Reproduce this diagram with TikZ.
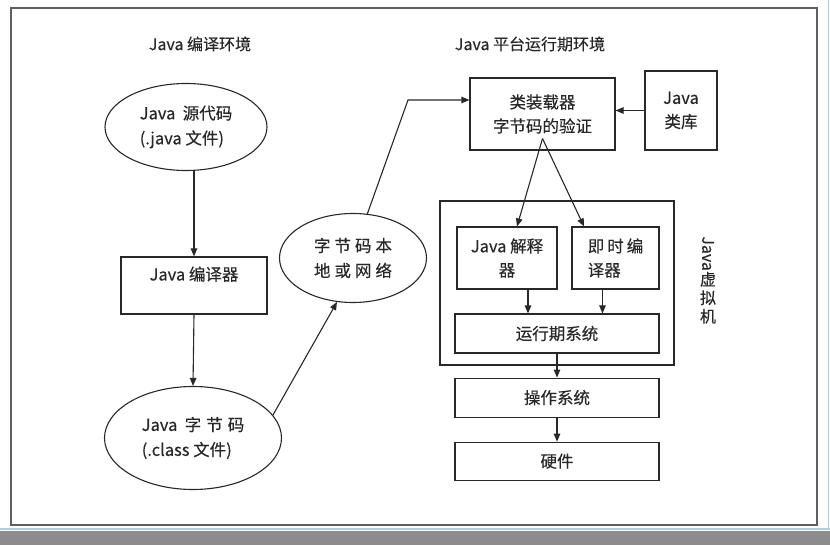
\documentclass[tikz,border=0pt]{standalone}
\usepackage{fontspec}
\setmainfont{Noto Sans CJK SC}[FakeBold=0.3]
\usetikzlibrary{shapes.geometric, arrows.meta, positioning, calc}
\definecolor{linegray}{RGB}{40,40,40}
\definecolor{framegray}{RGB}{95,95,95}
\definecolor{bargray}{RGB}{140,140,140}
\definecolor{barblue}{RGB}{175,205,230}
\tikzset{
  box/.style={rectangle, draw=linegray, line width=1.1pt, fill=white,
              text=linegray, align=center, inner sep=2pt,
              font=\fontsize{16.5}{24}\selectfont},
  oval/.style={ellipse, draw=linegray, line width=1.1pt, fill=white,
               text=linegray, align=left, inner sep=0pt,
               font=\fontsize{16.5}{25}\selectfont},
  title/.style={text=linegray, font=\fontsize{16}{18}\selectfont},
  arrow/.style={-{Triangle[length=8pt, width=6.5pt]}, line width=1.1pt, draw=linegray},
}

\begin{document}
\begin{tikzpicture}[x=1pt, y=-1pt]
  \useasboundingbox (0,0) rectangle (830,545);
  % Screen frame
  \fill[bargray] (0,531) rectangle (830,545);
  \draw[barblue, line width=1.5pt] (0,529) -- (830,529);
  \draw[barblue, line width=1pt] (828,0) -- (828,529);
  \draw[framegray, line width=1.5pt] (11,8) rectangle (817,525);

  % Titles
  \node[title] (ctitle) at (200,44) {Java 编译环境};
  \node[title] (rtitle) at (530,44) {Java 平台运行期环境};

  % Compile side
  \node[oval, minimum width=162, minimum height=87] (src) at (186,127)
    {Java\ \ 源代码\\(.java 文件)};
  \node[box, minimum width=146, minimum height=57] (javac) at (194,285.5)
    {Java 编译器\\\mbox{}};
  \node[oval, minimum width=177, minimum height=103] (cls) at (193,438)
    {Java\ \ 字\hspace{5pt}节\hspace{5pt}码\\(.class 文件)};
  \node[oval, minimum width=147, minimum height=89, align=center] (net) at (353,258)
    {字\hspace{4pt}节\hspace{4pt}码\hspace{4pt}本\\地\hspace{4pt}或\hspace{4pt}网\hspace{4pt}络};

  % Runtime side
  \node[box, minimum width=145, minimum height=72] (loader) at (542.5,114)
    {类装载器\\字节码的验证};
  \node[box, minimum width=72, minimum height=79] (lib) at (681,110.5)
    {Java\\类库};
  \node[box, minimum width=234, minimum height=164] (jvm) at (557,283) {};
  \node[box, minimum width=100, minimum height=62] (interp) at (507,258)
    {Java 解释\\器};
  \node[box, minimum width=87, minimum height=62, align=left] (jit) at (615.5,258)
    {即\hspace{3pt}时\hspace{3pt}编\\译器};
  \node[box, minimum width=204, minimum height=39] (runtime) at (557,333.5)
    {运行期系统};
  \node[box, minimum width=204, minimum height=39, below=24pt of runtime] (os)
    {操作系统};
  \node[box, minimum width=204, minimum height=38, below=24pt of os] (hw)
    {硬件};
  \node[title, align=center, font=\fontsize{16}{18.5}\selectfont] (jvmlabel) at (708,280)
    {\rotatebox[origin=c]{-90}{Java}\\虚\\拟\\机};

  % Arrows
  \draw[arrow] (javac.north |- src.south) -- (javac.north);
  \draw[arrow] (javac.south) -- (cls.north);
  \draw[arrow] (cls.16) -- (net.250);
  \coordinate (bend) at (408,100);
  \draw[arrow] (net.72) -- (bend) -- (bend -| loader.west);
  \draw[arrow] (lib.west) -- (lib.west -| loader.east);
  \coordinate (split) at ([yshift=12pt]loader.south);
  \draw[arrow] (split) -- ([xshift=10pt]interp.north);
  \draw[arrow] (split) -- ([xshift=-31.5pt]jit.north);
  \draw[arrow] ([xshift=21pt]interp.south) -- ([xshift=21pt]interp.south |- runtime.north);
  \draw[arrow] ([xshift=-13pt]jit.south) -- ([xshift=-13pt]jit.south |- runtime.north);
  \draw[arrow] (runtime) -- (os);
  \draw[arrow] (os) -- (hw);
\end{tikzpicture}
\end{document}
